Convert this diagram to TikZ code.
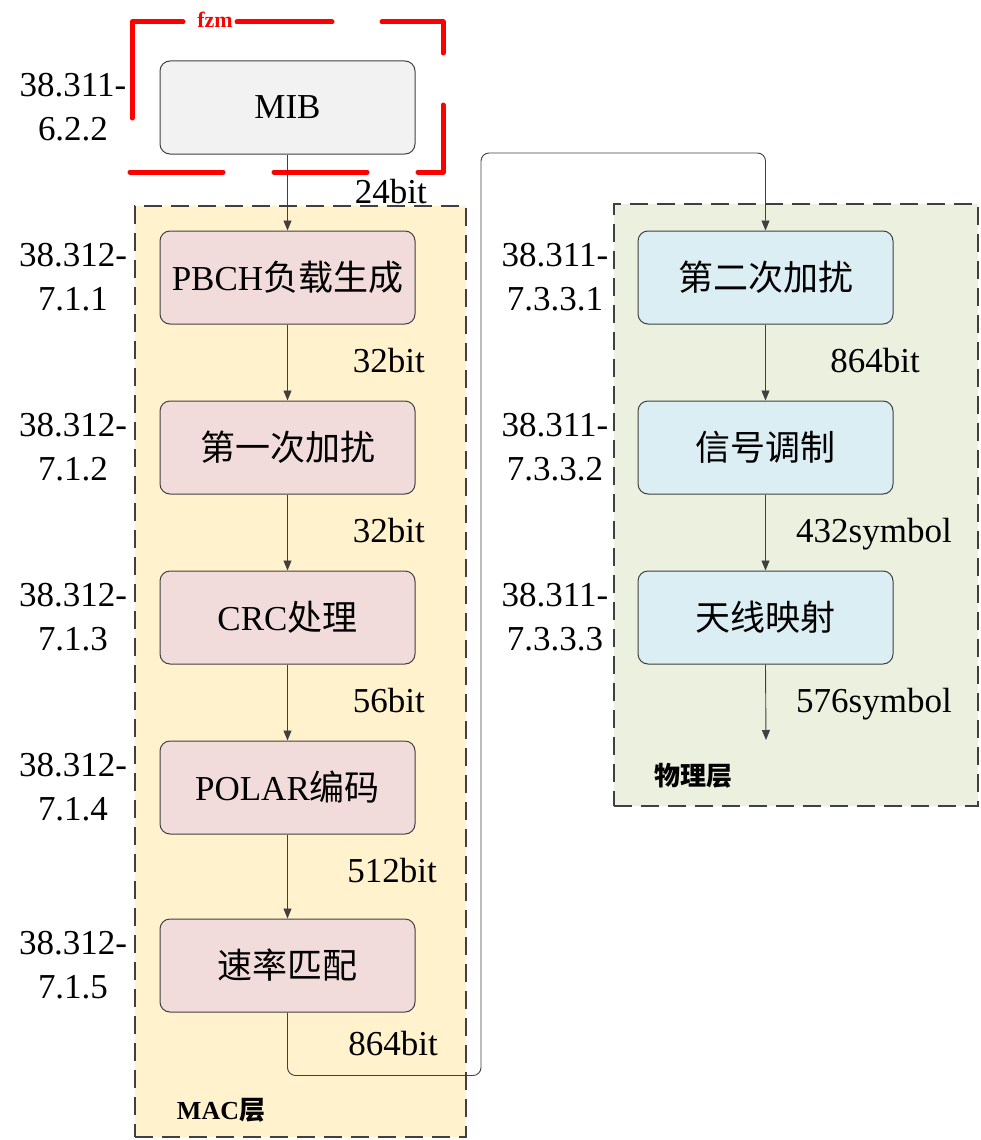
\documentclass[tikz,border=0pt]{standalone}
\usepackage{fontspec}
\setmainfont{Liberation Serif}
\newfontfamily\cjk{Noto Sans CJK SC}
\usetikzlibrary{arrows.meta}
\definecolor{boxgray}{HTML}{F2F2F2}
\definecolor{boxpink}{HTML}{F2DCDB}
\definecolor{boxblue}{HTML}{DBEEF4}
\definecolor{macfill}{HTML}{FFF2CC}
\definecolor{phyfill}{HTML}{EBF1DE}
\definecolor{laybd}{HTML}{404040}
\definecolor{boxbd}{HTML}{404040}
\definecolor{linec}{HTML}{404040}
\definecolor{redf}{HTML}{FF0000}
\begin{document}
\begin{tikzpicture}[x=1pt,y=-1pt,
  layer/.style={draw=laybd,line width=2pt,dash pattern=on 18pt off 9pt,inner sep=0pt},
  stepbox/.style={draw=boxbd,line width=1pt,rounded corners=10pt,minimum width=255pt,minimum height=93pt,inner sep=0pt,font=\fontsize{35}{42}\selectfont},
  ref/.style={align=center,inner sep=0pt,font=\fontsize{35}{44}\selectfont},
  qty/.style={anchor=base east,inner sep=0pt,font=\fontsize{35}{42}\selectfont},
  flow/.style={draw=linec,line width=0.9pt,-{Triangle[length=10pt,width=8pt]}},
  laylabel/.style={anchor=base,inner sep=0pt,font=\fontsize{26}{30}\selectfont\bfseries},
  redframe/.style={draw=redf,line width=5pt,line cap=round,line join=round}
]
\useasboundingbox (0,0) rectangle (980,1140);

% layers
\node[layer,fill=macfill,minimum width=331pt,minimum height=931pt] (mac) at (300.5,671.5) {};
\node[layer,fill=phyfill,minimum width=364pt,minimum height=602pt] (phy) at (796,505) {};

% red frame
\draw[redframe] (132,118) -- (132,22) -- (183,22);
\draw[redframe] (237,22) -- (332,22);
\draw[redframe] (382,22) -- (443,22) -- (443,53);
\draw[redframe] (443,105) -- (443,172) -- (418,172);
\draw[redframe] (367,172) -- (274,172);
\draw[redframe] (223,172) -- (130,172);
\node[anchor=base,inner sep=0pt,text=redf,font=\fontsize{22}{24}\selectfont\bfseries] (fzm) at (215,28) {fzm};

% boxes
\node[stepbox,fill=boxgray] (mib) at (287.5,107.5) {MIB};
\node[stepbox,fill=boxpink] (pbch) at (287.5,277.5) {PBCH{\cjk 负载生成}};
\node[stepbox,fill=boxpink] (s1) at (287.5,447.5) {\cjk 第一次加扰};
\node[stepbox,fill=boxpink] (crc) at (287.5,617.5) {CRC{\cjk 处理}};
\node[stepbox,fill=boxpink] (polar) at (287.5,787.5) {POLAR{\cjk 编码}};
\node[stepbox,fill=boxpink] (sm) at (287.5,965.5) {\cjk 速率匹配};

\node[stepbox,fill=boxblue] (s2) at (765.5,277.5) {\cjk 第二次加扰};
\node[stepbox,fill=boxblue] (mod) at (765.5,447.5) {\cjk 信号调制};
\node[stepbox,fill=boxblue] (am) at (765.5,617.5) {\cjk 天线映射};

% spec references
\node[ref] (r0) at (73,107) {38.311-\\6.2.2};
\node[ref] (r1) at (73,277) {38.312-\\7.1.1};
\node[ref] (r2) at (73,447) {38.312-\\7.1.2};
\node[ref] (r3) at (73,617) {38.312-\\7.1.3};
\node[ref] (r4) at (73,787) {38.312-\\7.1.4};
\node[ref] (r5) at (73,965) {38.312-\\7.1.5};
\node[ref] (q1) at (555,277) {38.311-\\7.3.3.1};
\node[ref] (q2) at (555,447) {38.311-\\7.3.3.2};
\node[ref] (q3) at (555,617) {38.311-\\7.3.3.3};

% connectors
\coordinate (up) at (481,153);
\coordinate (out) at (766,740);
\draw[flow] (mib.south) -- (pbch.north);
\draw[flow] (pbch.south) -- (s1.north);
\draw[flow] (s1.south) -- (crc.north);
\draw[flow] (crc.south) -- (polar.north);
\draw[flow] (polar.south) -- (sm.north);
\draw[flow,rounded corners=8pt] (sm.south) -- ++(0,63) -| (up) -| (s2.north);
\draw[flow] (s2.south) -- (mod.north);
\draw[flow] (mod.south) -- (am.north);
\draw[flow] (am.south) -- (out);

% quantities
\node[qty] (b0) at (427,203) {24bit};
\node[qty] (b1) at (425,372) {32bit};
\node[qty] (b2) at (425,542) {32bit};
\node[qty] (b3) at (425,712) {56bit};
\node[qty] (b4) at (437,882) {512bit};
\node[qty] (b5) at (438,1055) {864bit};
\node[qty] (c1) at (920,372) {864bit};
\node[qty] (c2) at (952,542) {432symbol};
\node[qty] (c3) at (952,712) {576symbol};

% layer labels
\node[laylabel] (macl) at (221,1119) {MAC{\cjk\bfseries 层}};
\node[laylabel] (phyl) at (693,785) {\cjk\bfseries 物理层};
\end{tikzpicture}
\end{document}
